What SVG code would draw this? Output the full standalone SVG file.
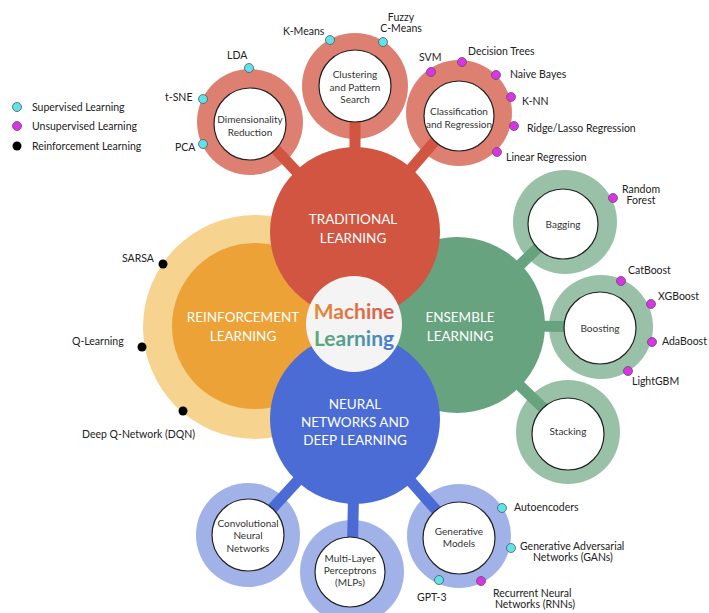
<svg xmlns="http://www.w3.org/2000/svg" width="709" height="613" viewBox="0 0 709 613">
<defs>
<linearGradient id="gM" x1="0" y1="0" x2="1" y2="0"><stop offset="0" stop-color="#e68a3a"/><stop offset="1" stop-color="#d65a4c"/></linearGradient>
<linearGradient id="gL" x1="0" y1="0" x2="1" y2="0"><stop offset="0" stop-color="#63a773"/><stop offset="0.5" stop-color="#4f9e97"/><stop offset="1" stop-color="#4a78d2"/></linearGradient>
<style>
text{font-family:Lato,"Noto Sans","Liberation Sans",sans-serif;}
.lbl{font-size:10.5px;fill:#222;}
.in{font-size:10px;fill:#333;text-anchor:middle;dominant-baseline:central;}
.main{font-size:13.5px;fill:#fff;text-anchor:middle;dominant-baseline:central;}
.w{fill:#fff;stroke:#222;stroke-width:1.2;}
.rr{fill:#d15541;opacity:0.75;}
.rg{fill:#67a37f;opacity:0.68;}
.rb{fill:#4a6cd4;opacity:0.52;}
.cs{fill:#5fe3ea;stroke:#555;stroke-width:0.8;}
.cu{fill:#dd33e8;stroke:#555;stroke-width:0.8;}
.ck{fill:#000;}
.cr{stroke:#d15541;stroke-width:11;}
.cg{stroke:#67a37f;stroke-width:11;}
.cb{stroke:#4a6cd4;stroke-width:11;}
</style>
</defs>
<rect width="709" height="613" fill="#fff"/>

<g id="legend">
<circle class="cs" cx="17" cy="107" r="4.5"/><text class="lbl" x="32" y="111">Supervised Learning</text>
<circle class="cu" cx="17" cy="126" r="4.5"/><text class="lbl" x="32" y="130">Unsupervised Learning</text>
<circle class="ck" cx="17" cy="146" r="4.5"/><text class="lbl" x="32" y="150">Reinforcement Learning</text>
</g>

<g id="reinforcement">
<circle cx="255" cy="327" r="112" fill="#f6d38f"/>
<circle cx="255" cy="326" r="83" fill="#eca236"/>
<circle class="ck" cx="163" cy="264" r="4.5"/><text class="lbl" x="122" y="262">SARSA</text>
<circle class="ck" cx="142" cy="347" r="4.5"/><text class="lbl" x="72" y="345">Q-Learning</text>
<circle class="ck" cx="183" cy="411" r="4.5"/><text class="lbl" x="82" y="438">Deep Q-Network (DQN)</text>
<text class="main" x="243" y="317">REINFORCEMENT</text>
<text class="main" x="243" y="336">LEARNING</text>
</g>

<g id="connectors">
<line class="cr" x1="250" y1="122" x2="355" y2="234"/>
<line class="cr" x1="355" y1="86" x2="355" y2="234"/>
<line class="cr" x1="459" y1="113" x2="355" y2="234"/>
<line class="cg" x1="565" y1="222" x2="457" y2="325"/>
<line class="cg" x1="601" y1="327" x2="457" y2="325"/>
<line class="cg" x1="568" y1="432" x2="457" y2="325"/>
<line class="cb" x1="248" y1="535" x2="355" y2="418"/>
<line class="cb" x1="352" y1="572" x2="355" y2="418"/>
<line class="cb" x1="459" y1="536" x2="355" y2="418"/>
</g>

<g id="dimensionality">
<circle class="rr" cx="250" cy="122" r="53"/>
<circle class="w" cx="250" cy="124" r="36"/>
<text class="in" x="250" y="119">Dimensionality</text>
<text class="in" x="250" y="132">Reduction</text>
<circle class="cs" cx="249" cy="68" r="4.5"/><text class="lbl" x="227" y="59">LDA</text>
<circle class="cs" cx="203" cy="99" r="4.5"/><text class="lbl" x="165" y="101">t-SNE</text>
<circle class="cs" cx="203" cy="144" r="4.5"/><text class="lbl" x="175" y="151">PCA</text>
</g>

<g id="clustering">
<circle class="rr" cx="355" cy="86" r="53"/>
<circle class="w" cx="355" cy="86" r="36"/>
<text class="in" x="355" y="74">Clustering</text>
<text class="in" x="355" y="87">and Pattern</text>
<text class="in" x="355" y="99">Search</text>
<circle class="cs" cx="330" cy="40" r="4.5"/><text class="lbl" x="283" y="35">K-Means</text>
<circle class="cs" cx="383" cy="42" r="4.5"/><text class="lbl" x="401" y="21" text-anchor="middle">Fuzzy</text><text class="lbl" x="401" y="32" text-anchor="middle">C-Means</text>
</g>

<g id="classification">
<circle class="rr" cx="459" cy="113" r="53"/>
<circle class="w" cx="459" cy="116" r="35"/>
<text class="in" x="459" y="111">Classification</text>
<text class="in" x="459" y="124">and Regression</text>
<circle class="cu" cx="431" cy="72" r="4.5"/><text class="lbl" x="419" y="61">SVM</text>
<circle class="cu" cx="462" cy="62" r="4.5"/><text class="lbl" x="468" y="55">Decision Trees</text>
<circle class="cu" cx="496" cy="75" r="4.5"/><text class="lbl" x="510" y="78">Naive Bayes</text>
<circle class="cu" cx="511" cy="97" r="4.5"/><text class="lbl" x="522" y="105">K-NN</text>
<circle class="cu" cx="514" cy="126" r="4.5"/><text class="lbl" x="527" y="132">Ridge/Lasso Regression</text>
<circle class="cu" cx="497" cy="152" r="4.5"/><text class="lbl" x="506" y="161">Linear Regression</text>
</g>

<g id="bagging">
<circle class="rg" cx="565" cy="222" r="52"/>
<circle class="w" cx="563" cy="224" r="35"/>
<text class="in" x="563" y="224">Bagging</text>
<circle class="cu" cx="613" cy="198" r="4.5"/><text class="lbl" x="641" y="193" text-anchor="middle">Random</text><text class="lbl" x="641" y="204" text-anchor="middle">Forest</text>
</g>

<g id="boosting">
<circle class="rg" cx="601" cy="327" r="52"/>
<circle class="w" cx="600" cy="328" r="36"/>
<text class="in" x="600" y="328">Boosting</text>
<circle class="cu" cx="621" cy="281" r="4.5"/><text class="lbl" x="628" y="274">CatBoost</text>
<circle class="cu" cx="651" cy="304" r="4.5"/><text class="lbl" x="658" y="300">XGBoost</text>
<circle class="cu" cx="652" cy="342" r="4.5"/><text class="lbl" x="662" y="345">AdaBoost</text>
<circle class="cu" cx="628" cy="371" r="4.5"/><text class="lbl" x="632" y="385">LightGBM</text>
</g>

<g id="stacking">
<circle class="rg" cx="568" cy="432" r="52"/>
<circle class="w" cx="568" cy="434" r="36"/>
<text class="in" x="568" y="431">Stacking</text>
</g>

<g id="cnn">
<circle class="rb" cx="248" cy="535" r="52"/>
<circle class="w" cx="248" cy="535" r="36"/>
<text class="in" x="248" y="523">Convolutional</text>
<text class="in" x="248" y="535">Neural</text>
<text class="in" x="248" y="548">Networks</text>
</g>

<g id="mlp">
<circle class="rb" cx="352" cy="572" r="52"/>
<circle class="w" cx="350" cy="572" r="35"/>
<text class="in" x="350" y="558">Multi-Layer</text>
<text class="in" x="350" y="570">Perceptrons</text>
<text class="in" x="350" y="582">(MLPs)</text>
</g>

<g id="generative">
<circle class="rb" cx="459" cy="536" r="52"/>
<circle class="w" cx="459" cy="538" r="36"/>
<text class="in" x="459" y="531">Generative</text>
<text class="in" x="459" y="543">Models</text>
<circle class="cs" cx="502" cy="508" r="4.5"/><text class="lbl" x="514" y="511">Autoencoders</text>
<circle class="cs" cx="511" cy="548" r="4.5"/><text class="lbl" x="520" y="550">Generative Adversarial</text><text class="lbl" x="533" y="561">Networks (GANs)</text>
<circle class="cs" cx="439" cy="580" r="4.5"/><text class="lbl" x="417" y="601">GPT-3</text>
<circle class="cu" cx="481" cy="581" r="4.5"/><text class="lbl" x="493" y="597">Recurrent Neural</text><text class="lbl" x="495" y="608">Networks (RNNs)</text>
</g>

<g id="ensemble">
<circle cx="457" cy="325" r="88" fill="#67a37f"/>
<text class="main" x="460" y="317">ENSEMBLE</text>
<text class="main" x="460" y="336">LEARNING</text>
</g>

<g id="traditional">
<circle cx="355" cy="232" r="85" fill="#d15541"/>
<text class="main" x="353" y="219">TRADITIONAL</text>
<text class="main" x="353" y="238">LEARNING</text>
</g>

<g id="neural">
<circle cx="355" cy="419" r="85" fill="#4a6cd4"/>
<text class="main" x="355" y="404">NEURAL</text>
<text class="main" x="355" y="422">NETWORKS AND</text>
<text class="main" x="355" y="440">DEEP LEARNING</text>
</g>

<g id="center">
<circle cx="354" cy="324" r="48" fill="#f4f4f4"/>
<text x="354" y="319" text-anchor="middle" font-size="21" font-weight="bold" fill="url(#gM)">Machine</text>
<text x="354" y="346" text-anchor="middle" font-size="21" font-weight="bold" fill="url(#gL)">Learning</text>
</g>
</svg>
